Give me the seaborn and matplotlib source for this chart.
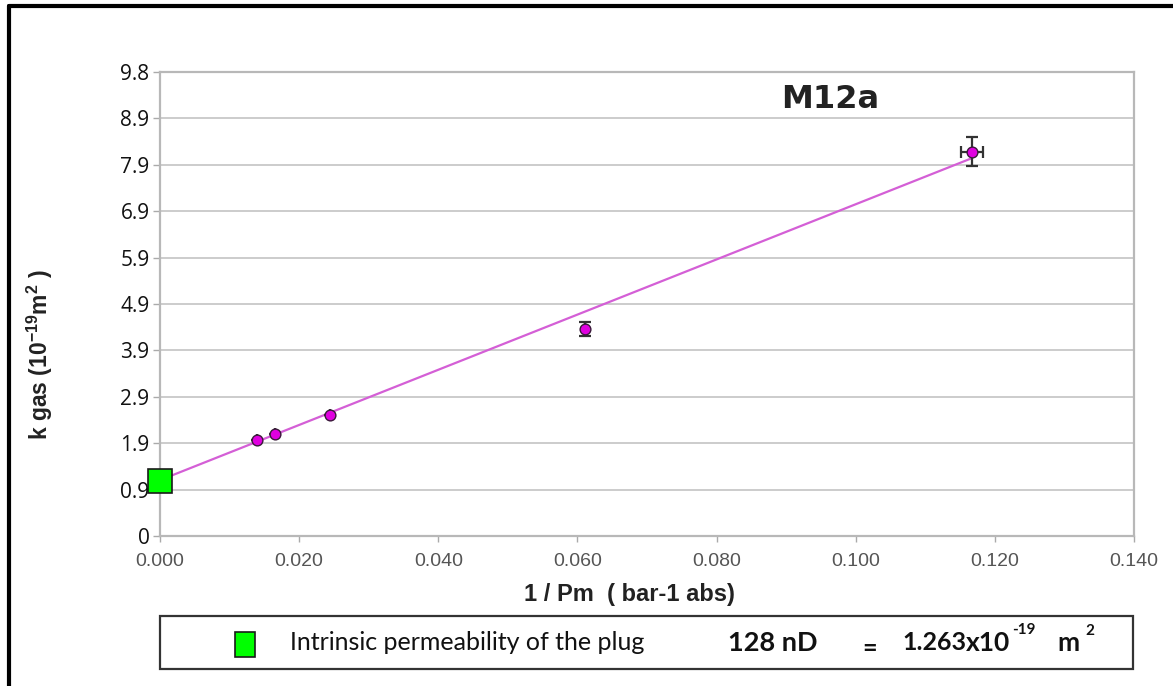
import numpy as np
import pandas as pd
import matplotlib
matplotlib.use("Agg")
import matplotlib.pyplot as plt
from matplotlib.patches import Rectangle
from matplotlib.lines import Line2D
import seaborn as sns

# ---- data ----
inv_pm = [0.0140, 0.0166, 0.0245, 0.0611, 0.1167]
k_gas = [2.02, 2.16, 2.55, 4.37, 8.12]
k_err = [0.0, 0.0, 0.0, 0.15, 0.30]
x_err = [0.0, 0.0, 0.0, 0.0, 0.0016]
fit_x = [0.0, 0.1167]
fit_y = [1.18, 7.98]
intrinsic_x = [0.0]
intrinsic_y = [1.16]
ytick_labels = ["0", "0.9", "1.9", "2.9", "3.9", "4.9", "5.9", "6.9", "7.9", "8.9", "9.8"]
ytick_step = 0.98
xticks = [0.0, 0.02, 0.04, 0.06, 0.08, 0.10, 0.12, 0.14]
title = "M12a"

sns.set_theme(style="white")
plt.rcParams['font.family'] = ['Open Sans', 'DejaVu Sans']
plt.rcParams['mathtext.fontset'] = 'custom'
plt.rcParams['mathtext.rm'] = 'Liberation Sans:bold'
plt.rcParams['mathtext.it'] = 'Liberation Sans:bold'
plt.rcParams['mathtext.bf'] = 'Liberation Sans:bold'

W, H = 1173, 686
fig = plt.figure(figsize=(W / 100, H / 100), dpi=100)
ax = fig.add_axes([160 / W, 1 - 536 / H, (1134 - 160) / W, (536 - 72) / H])

df = pd.DataFrame({"x": inv_pm, "y": k_gas})
fit = pd.DataFrame({"x": fit_x, "y": fit_y})

yticks = [i * ytick_step for i in range(len(ytick_labels))]
for yt in yticks[1:]:
    ax.axhline(yt, color="#c8c8c8", lw=1.3, zorder=0)

sns.lineplot(data=fit, x="x", y="y", ax=ax, color="#d45fd6", lw=1.6, zorder=2)
ax.errorbar(inv_pm, k_gas, yerr=k_err, xerr=x_err, fmt="none", ecolor="#333333",
            elinewidth=1.6, capsize=4, capthick=1.6, zorder=3)
sns.scatterplot(data=df, x="x", y="y", ax=ax, color="#e000e0", edgecolor="#3a1a3a",
                linewidth=1.0, s=60, zorder=4)
ax.plot(intrinsic_x, intrinsic_y, marker="s", ms=17, color="#00ff00", mec="#1a1a1a",
        mew=1.2, ls="none", zorder=5, clip_on=False)

ax.set_xlim(0, 0.14)
ax.set_ylim(0, yticks[-1])
ax.set_xticks(xticks)
ax.set_xticklabels([f"{v:.3f}" for v in xticks], fontsize=14, color="#555555",
                   family=['Liberation Sans', 'DejaVu Sans'])
ax.set_yticks(yticks)
ax.set_yticklabels(ytick_labels, fontsize=15, color="#111111")
ax.tick_params(axis="y", direction="out", length=5, width=1, color="#aaaaaa", left=True, pad=2.5)
ax.tick_params(axis="x", direction="out", length=4, width=1, color="#aaaaaa", bottom=True, pad=8)
for s in ax.spines.values():
    s.set_color("#b8b8b8")
    s.set_linewidth(1.6)

ax.set_xlabel("1 / Pm  ( bar-1 abs)", fontsize=17, fontweight="bold", color="#222222",
              family=['Liberation Sans', 'DejaVu Sans'])
ax.xaxis.set_label_coords((629 - 160) / 974, (536 - 583) / 464)
ax.set_ylabel(r"k gas (10$^{-19}$m$^{2}$ )", fontsize=16.5, fontweight="bold", color="#222222",
              family=['Liberation Sans', 'DejaVu Sans'])
ax.yaxis.set_label_coords((55 - 160) / 974, (536 - 355) / 464)
ax.text((830 - 160) / 974, (536 - 100) / 464, title, transform=ax.transAxes,
        fontsize=23, fontweight="bold", ha="center", va="center", color="#222222",
        family=['DejaVu Sans'])

# outer frame
fig.add_artist(Line2D([9 / W, 9 / W], [0, 1 - 6 / H], transform=fig.transFigure,
                      color="black", lw=3))
fig.add_artist(Line2D([9 / W, 1], [1 - 6 / H, 1 - 6 / H], transform=fig.transFigure,
                      color="black", lw=3))

# legend box
fig.add_artist(Rectangle((160 / W, 1 - 669 / H), (1133 - 160) / W, (669 - 616) / H,
                         transform=fig.transFigure, fill=False, edgecolor="#333333", lw=1.6))
fig.add_artist(Rectangle((235 / W, 1 - 657 / H), 20 / W, 25 / H, transform=fig.transFigure,
                         facecolor="#00ff00", edgecolor="#1a1a1a", lw=1.2))
ty = 1 - 643 / H
lfam = ['Lato', 'DejaVu Sans']
fig.text(290 / W, ty, "Intrinsic permeability of the plug", fontsize=18, va="center",
         color="#111111", family=lfam)
fig.text(728 / W, ty, "128 nD", fontsize=19.5, fontweight="bold", va="center",
         color="#111111", family=lfam)
fig.text(862 / W, ty - 0.008, "=", fontsize=18, fontweight="bold", va="center",
         color="#111111", family=lfam)
fig.text(902 / W, ty, "1.263", fontsize=18, fontweight="bold", va="center",
         color="#111111", family=lfam)
fig.text(966 / W, ty, "x10", fontsize=19, fontweight="bold", va="center",
         color="#111111", family=lfam)
fig.text(1012 / W, ty + 0.019, "-19", fontsize=11, fontweight="bold", va="center",
         color="#111111", family=lfam)
fig.text(1057 / W, ty, "m", fontsize=19, fontweight="bold", va="center",
         color="#111111", family=lfam)
fig.text(1085 / W, ty + 0.017, "2", fontsize=11, fontweight="bold", va="center",
         color="#111111", family=lfam)

fig.savefig("out.png", dpi=100, facecolor="white")
